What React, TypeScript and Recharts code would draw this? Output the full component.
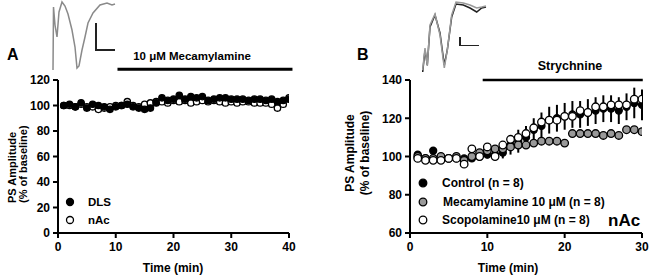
import React from 'react';
import { ScatterChart, Scatter, XAxis, YAxis, ErrorBar, ReferenceLine, LineChart, Line } from 'recharts';

// ---------- Panel A data ----------
const timesA = [1,2,3,4,5,6,7,8,9,10,11,12,13,14,15,16,17,18,19,20,21,22,23,24,25,26,27,28,29,30,31,32,33,34,35,36,37,38,39,40];
const dlsValues = [100,101,99,102,98,101,100,99,97,99,100,101,99,98,97,98,102,106,104,105,108,105,107,106,107,104,105,106,106,105,105,105,104,105,105,104,105,103,104,105];
const nacValues = [100,100,99,101,99,99,97,98,99,100,100,103,100,99,101,102,103,103,102,104,103,104,102,103,104,103,104,103,102,103,102,103,103,102,102,102,101,98,101,106];
const ticksAX = [0,10,20,30,40];
const ticksAY = [0,20,40,60,80,100,120];
const drugBarA = { from: 10.3, to: 40.6, level: 128.5 };

// ---------- Panel B data ----------
const timesB = [1,2,3,4,5,6,7,8,9,10,11,12,13,14,15,16,17,18,19,20,21,22,23,24,25,26,27,28,29,30];
const controlValues = [101,99,103,99,99,99,99,99,100,101,101,102,106,108,110,114,116,119,120,121,122,122,123,124,125,125,124,126,128,127];
const controlErr = [1,1,1,1,1,1,1,1,2,2,3,3,5,6,6,6,7,7,7,7,7,7,7,7,7,7,7,7,8,8];
const mecaValues = [100,99,99,100,99,100,98,100,102,103,104,104,105,106,106,107,108,108,108,107,112,112,112,112,111,112,111,114,114,113];
const scopValues = [99,98,98,98,99,99,96,104,100,105,100,106,109,110,112,115,118,119,119,121,121,124,123,126,126,127,127,127,130,130];
const ticksBX = [0,10,20,30];
const ticksBY = [60,80,100,120,140];
const drugBarB = { from: 9.4, to: 30.1, level: 140 };

// ---------- Inset traces (arbitrary units) ----------
const traceATime = [3,3.5,5,7,9,12,15,18,22,25,27,29,32,35,38,43,50,57,62,65];
const traceAAmp = [2,65,47,35,60,70,66,58,42,25,4,6,22,35,49,59,67,69,67,68];
const traceBTime = [4.7,7,9.3,12,17,22,26.3,29.3,33.7,38,45.3,52,58.7,63.7,68];
const traceBAmpBlack = [4,26,11,49,61,43,11,26,59,72,71,68,64,68,69];
const traceBAmpGray = [6,28,10,51,62,41,8,26,61,74,73,71,68,69,70];

const zip = (ts: number[], vs: number[]) => ts.map((t, i) => ({ t, v: vs[i] }));
const dataDLS = zip(timesA, dlsValues);
const dataNAc = zip(timesA, nacValues);
const dataControl = timesB.map((t, i) => ({ t, v: controlValues[i], e: controlErr[i] }));
const dataMeca = zip(timesB, mecaValues);
const dataScop = zip(timesB, scopValues);
const dataTraceA = zip(traceATime, traceAAmp);
const dataTraceB = traceBTime.map((t, i) => ({ t, b: traceBAmpBlack[i], g: traceBAmpGray[i] }));

const FONT = 'Arial, "Liberation Sans", Helvetica, sans-serif';

const dot = (fill: string, r: number) => (props: any) => (
  <circle cx={props.cx} cy={props.cy} r={r} fill={fill} stroke="#000" strokeWidth={1.3} />
);

const axisStyle = {
  axisLine: { stroke: '#000', strokeWidth: 2 },
  tickLine: { stroke: '#000', strokeWidth: 2 },
  tickSize: 5,
};

export default function App() {
  return (
    <div style={{ position: 'absolute', left: 0, top: 0, width: 650, height: 278, background: '#fff', fontFamily: FONT, overflow: 'hidden' }}>
      {/* Panel A */}
      <div style={{ position: 'absolute', left: 0, top: 0 }}>
        <ScatterChart width={300} height={278} margin={{ top: 80, right: 11, left: 0, bottom: 0 }}>
          <XAxis type="number" dataKey="t" domain={[0, 40]} ticks={ticksAX} height={45} allowDataOverflow
            {...axisStyle} tickMargin={4} tick={{ fill: '#000', fontSize: 12, fontWeight: 'bold', fontFamily: FONT }} />
          <YAxis type="number" dataKey="v" domain={[0, 120]} ticks={ticksAY} width={58} allowDataOverflow
            {...axisStyle} tickMargin={3} tick={{ fill: '#000', fontSize: 12, fontWeight: 'bold', fontFamily: FONT }} />
          <ReferenceLine segment={[{ x: drugBarA.from, y: drugBarA.level }, { x: drugBarA.to, y: drugBarA.level }]}
            stroke="#000" strokeWidth={3} ifOverflow="visible" />
          <Scatter data={dataNAc} isAnimationActive={false} shape={dot('#fff', 3.2)} />
          <Scatter data={dataDLS} isAnimationActive={false} shape={dot('#000', 3.2)} />
        </ScatterChart>
      </div>

      {/* Panel B */}
      <div style={{ position: 'absolute', left: 330, top: 0 }}>
        <ScatterChart width={320} height={278} margin={{ top: 80, right: 8, left: 0, bottom: 0 }}>
          <XAxis type="number" dataKey="t" domain={[0, 30]} ticks={ticksBX} height={45} allowDataOverflow
            {...axisStyle} tickMargin={4} tick={{ fill: '#000', fontSize: 12, fontWeight: 'bold', fontFamily: FONT }} />
          <YAxis type="number" dataKey="v" domain={[60, 140]} ticks={ticksBY} width={80} allowDataOverflow
            {...axisStyle} tickMargin={3} tick={{ fill: '#000', fontSize: 12, fontWeight: 'bold', fontFamily: FONT }} />
          <ReferenceLine segment={[{ x: drugBarB.from, y: drugBarB.level }, { x: drugBarB.to, y: drugBarB.level }]}
            stroke="#000" strokeWidth={2.5} ifOverflow="visible" />
          <Scatter data={dataControl} isAnimationActive={false} shape={dot('#000', 3.5)}>
            <ErrorBar dataKey="e" direction="y" width={0} stroke="#000" strokeWidth={2} />
          </Scatter>
          <Scatter data={dataMeca} isAnimationActive={false} shape={dot('#999', 3.8)} />
          <Scatter data={dataScop} isAnimationActive={false} shape={dot('#fff', 3.8)} />
        </ScatterChart>
      </div>

      {/* Inset traces */}
      <div style={{ position: 'absolute', left: 50, top: 0 }}>
        <LineChart width={70} height={75} data={dataTraceA} margin={{ top: 0, right: 0, left: 0, bottom: 0 }}>
          <XAxis hide type="number" dataKey="t" domain={[0, 70]} />
          <YAxis hide type="number" domain={[-3, 72]} />
          <Line dataKey="v" stroke="#8a8a8a" strokeWidth={1.5} dot={false} isAnimationActive={false} />
        </LineChart>
      </div>
      <div style={{ position: 'absolute', left: 418, top: 0 }}>
        <LineChart width={72} height={76} data={dataTraceB} margin={{ top: 0, right: 0, left: 0, bottom: 0 }}>
          <XAxis hide type="number" dataKey="t" domain={[0, 72]} />
          <YAxis hide type="number" domain={[0, 76]} />
          <Line dataKey="b" stroke="#222" strokeWidth={1.5} dot={false} isAnimationActive={false} />
          <Line dataKey="g" stroke="#999" strokeWidth={1.5} dot={false} isAnimationActive={false} />
        </LineChart>
      </div>
      {/* scale bars */}
      <div style={{ position: 'absolute', left: 95, top: 23, width: 1.5, height: 27, background: '#222' }} />
      <div style={{ position: 'absolute', left: 95, top: 49, width: 20, height: 1.5, background: '#222' }} />
      <div style={{ position: 'absolute', left: 459, top: 37, width: 1.5, height: 8.5, background: '#222' }} />
      <div style={{ position: 'absolute', left: 459, top: 44.5, width: 20, height: 1.5, background: '#222' }} />

      {/* Text overlay */}
      <svg width={650} height={278} style={{ position: 'absolute', left: 0, top: 0, pointerEvents: 'none' }}
        fontFamily={FONT} fontWeight="bold" fill="#000">
        <text x={7} y={54} fontSize={16} dominantBaseline="central">A</text>
        <text x={357} y={54} fontSize={16} dominantBaseline="central">B</text>
        <text x={192} y={56} fontSize={11.5} textAnchor="middle" dominantBaseline="central">10 μM Mecamylamine</text>
        <text x={570} y={66} fontSize={12.5} textAnchor="middle" dominantBaseline="central">Strychnine</text>

        <text x={173} y={268} fontSize={12} textAnchor="middle" dominantBaseline="central">Time (min)</text>
        <text x={508} y={268} fontSize={12} textAnchor="middle" dominantBaseline="central">Time (min)</text>

        <text transform="translate(12,203) rotate(-90)" fontSize={11} dominantBaseline="central">PS Amplitude</text>
        <text transform="translate(22.5,203) rotate(-90)" fontSize={11} dominantBaseline="central">(% of baseline)</text>
        <text transform="translate(350,153) rotate(-90)" fontSize={12} textAnchor="middle" dominantBaseline="central">PS Amplitude</text>
        <text transform="translate(364.5,153) rotate(-90)" fontSize={12} textAnchor="middle" dominantBaseline="central">(% of baseline)</text>

        {/* Legend A */}
        <circle cx={70} cy={202} r={3.5} fill="#000" stroke="#000" strokeWidth={1.3} />
        <text x={88} y={202} fontSize={11.5} dominantBaseline="central">DLS</text>
        <circle cx={70} cy={220} r={3.5} fill="#fff" stroke="#000" strokeWidth={1.3} />
        <text x={88} y={220} fontSize={11.5} dominantBaseline="central">nAc</text>

        {/* Legend B */}
        <circle cx={423} cy={183} r={3.8} fill="#000" stroke="#000" strokeWidth={1.3} />
        <text x={442} y={183} fontSize={12} dominantBaseline="central">Control (n = 8)</text>
        <circle cx={423} cy={202} r={3.8} fill="#999" stroke="#000" strokeWidth={1.3} />
        <text x={443} y={202} fontSize={12} dominantBaseline="central">Mecamylamine 10 μM (n = 8)</text>
        <circle cx={423} cy={220} r={3.8} fill="#fff" stroke="#000" strokeWidth={1.3} />
        <text x={442} y={220} fontSize={12} dominantBaseline="central">Scopolamine10 μM (n = 8)</text>
        <text x={608} y={220} fontSize={17} dominantBaseline="central">nAc</text>
      </svg>
    </div>
  );
}
